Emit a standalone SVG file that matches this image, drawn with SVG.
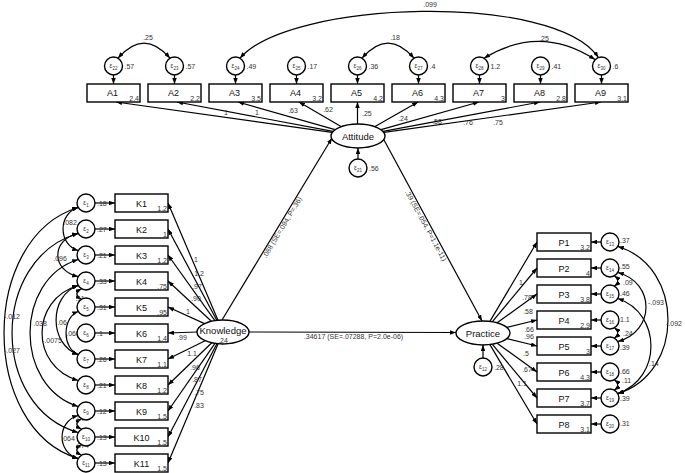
<svg xmlns="http://www.w3.org/2000/svg" width="685" height="473" viewBox="0 0 685 473">
<defs>
<marker id="ah" viewBox="0 0 8 6" refX="8" refY="3" markerWidth="6" markerHeight="4.5" orient="auto-start-reverse" markerUnits="userSpaceOnUse"><path d="M0,0 L8,3 L0,6 z" fill="#000"/></marker>
<style>
.box{fill:#fff;stroke:#000;stroke-width:1.4}
.err{fill:#fff;stroke:#000;stroke-width:1.4}
.lat{fill:#fff;stroke:#000;stroke-width:1.4}
.ln{fill:none;stroke:#000;stroke-width:1.2;marker-end:url(#ah)}
.cv{fill:none;stroke:#000;stroke-width:1.2;marker-start:url(#ah);marker-end:url(#ah)}
text{font-family:"Liberation Sans",Arial,sans-serif}
.s{font-size:7px;fill:#333}
.b{font-size:9px;fill:#111;text-anchor:middle}
.n{font-size:9.5px;fill:#111;text-anchor:middle}
.e{font-size:6.5px;fill:#333;text-anchor:middle}
.e tspan{font-size:4.5px}
.r{text-anchor:end}
.m{text-anchor:middle}
</style>
</defs>
<g opacity="0.999">
<g id="connectors">
<path class="ln" d="M332,132.4 L116,102"/>
<path class="ln" d="M333,131.4 L177,102"/>
<path class="ln" d="M335,129.6 L238,102"/>
<path class="ln" d="M341,126.6 L299,102"/>
<path class="ln" d="M357.5,124 L357.5,102"/>
<path class="ln" d="M375,126.6 L418,102"/>
<path class="ln" d="M381,129.6 L479,102"/>
<path class="ln" d="M383,131.4 L540,102"/>
<path class="ln" d="M384,132.4 L601,102"/>
<path class="ln" d="M113.5,75 L113.5,84"/>
<path class="ln" d="M174.5,75 L174.5,84"/>
<path class="ln" d="M235.5,75 L235.5,84"/>
<path class="ln" d="M296.5,75 L296.5,84"/>
<path class="ln" d="M357.5,75 L357.5,84"/>
<path class="ln" d="M418.5,75 L418.5,84"/>
<path class="ln" d="M479.5,75 L479.5,84"/>
<path class="ln" d="M540.5,75 L540.5,84"/>
<path class="ln" d="M601.5,75 L601.5,84"/>
<path class="cv" d="M118,58.2 Q144,28 170,58.2"/>
<path class="cv" d="M362,58.2 Q388,28 414,58.2"/>
<path class="cv" d="M595,59.6 Q540,24 484,58.2"/>
<path class="cv" d="M240,58.2 C290,0 555,-8 598.4,57.5"/>
<path class="ln" d="M358,159 L358,148"/>
<path class="ln" d="M218,320.2 L168,203"/>
<path class="ln" d="M216.8,320.3 L168,229"/>
<path class="ln" d="M214.9,320.6 L168,255"/>
<path class="ln" d="M211.4,321.3 L168,281"/>
<path class="ln" d="M204.5,323.6 L168,307"/>
<path class="ln" d="M197,332 L168,333"/>
<path class="ln" d="M205.2,340.7 L168,359"/>
<path class="ln" d="M211.8,342.8 L168,385"/>
<path class="ln" d="M215,343.4 L168,411"/>
<path class="ln" d="M216.9,343.7 L168,437"/>
<path class="ln" d="M218.1,343.8 L168,463"/>
<path class="ln" d="M95,203 L115,203"/>
<path class="ln" d="M95,229 L115,229"/>
<path class="ln" d="M95,255 L115,255"/>
<path class="ln" d="M95,281 L115,281"/>
<path class="ln" d="M95,307 L115,307"/>
<path class="ln" d="M95,333 L115,333"/>
<path class="ln" d="M95,359 L115,359"/>
<path class="ln" d="M95,385 L115,385"/>
<path class="ln" d="M95,411 L115,411"/>
<path class="ln" d="M95,437 L115,437"/>
<path class="ln" d="M95,463 L115,463"/>
<path class="cv" d="M78.2,207.5 C58,213.5 58,244.5 78.2,250.5"/>
<path class="cv" d="M78.2,233.5 C51,239.5 51,270.5 78.2,276.5"/>
<path class="cv" d="M81.5,288.8 Q72,294 81.5,299.2"/>
<path class="cv" d="M78.2,285.5 C48.7,295.5 48.7,344.5 78.2,354.5"/>
<path class="cv" d="M78.2,311.5 C62,317.5 62,348.5 78.2,354.5"/>
<path class="cv" d="M78.2,259.5 C14,279.5 14,386.5 78.2,406.5"/>
<path class="cv" d="M78.2,285.5 C30,299.5 30,366.5 78.2,380.5"/>
<path class="cv" d="M78.2,207.5 C-20.7,237.5 -20.7,428.5 78.2,458.5"/>
<path class="cv" d="M78.2,233.5 C-10,258.5 -10,407.5 78.2,432.5"/>
<path class="cv" d="M81.5,418.8 Q72,424 81.5,429.2"/>
<path class="cv" d="M81.5,444.8 Q72,450 81.5,455.2"/>
<path class="cv" d="M78.2,415.5 C56.7,421.5 56.7,452.5 78.2,458.5"/>
<path class="ln" d="M222,320 L332,138"/>
<path class="ln" d="M384,140 L482,321"/>
<path class="ln" d="M249,332 L456,332.5"/>
<path class="ln" d="M489.9,321.4 L537,242"/>
<path class="ln" d="M492.4,321.7 L537,268"/>
<path class="ln" d="M497.1,322.8 L537,294"/>
<path class="ln" d="M506.8,327.3 L537,320"/>
<path class="ln" d="M506.8,338.7 L537,346"/>
<path class="ln" d="M497.1,343.2 L537,372"/>
<path class="ln" d="M492.4,344.3 L537,398"/>
<path class="ln" d="M489.9,344.6 L537,424"/>
<path class="ln" d="M483,358 L483,345"/>
<path class="ln" d="M601,242 L591,242"/>
<path class="ln" d="M601,268 L591,268"/>
<path class="ln" d="M601,294 L591,294"/>
<path class="ln" d="M601,320 L591,320"/>
<path class="ln" d="M601,346 L591,346"/>
<path class="ln" d="M601,372 L591,372"/>
<path class="ln" d="M601,398 L591,398"/>
<path class="ln" d="M601,424 L591,424"/>
<path class="cv" d="M614.5,275.8 Q621,281 614.5,286.2"/>
<path class="cv" d="M614.5,327.8 Q621,333 614.5,338.2"/>
<path class="cv" d="M614.5,379.8 Q621,385 614.5,390.2"/>
<path class="cv" d="M617.8,272.5 C655.4,282.5 655.4,331.5 617.8,341.5"/>
<path class="cv" d="M617.8,298.5 C662,313.5 662,378.5 617.8,393.5"/>
<path class="cv" d="M617.8,246.5 C684.7,266.5 684.7,373.5 617.8,393.5"/>
</g>

<g id="connector-labels">
<text class="s m" x="226" y="114.5">1</text>
<text class="s m" x="257" y="114.5">1</text>
<text class="s m" x="293" y="112.5">.63</text>
<text class="s m" x="328" y="111.5">.62</text>
<text class="s" x="362" y="115.5">.25</text>
<text class="s m" x="403" y="120.5">.24</text>
<text class="s m" x="437" y="123.5">.58</text>
<text class="s m" x="468" y="124.5">.76</text>
<text class="s m" x="498" y="124.5">.75</text>
<text class="s m" x="148" y="39.5">.25</text>
<text class="s m" x="395" y="39.5">.18</text>
<text class="s m" x="544" y="40.5">.25</text>
<text class="s m" x="430" y="7">.099</text>
<text class="s m" x="196" y="261.5">1</text>
<text class="s m" x="199" y="275.5">1.2</text>
<text class="s m" x="197" y="288.5">.97</text>
<text class="s m" x="196" y="300.5">.90</text>
<text class="s m" x="188" y="313.5">1</text>
<text class="s m" x="182" y="339.5">.99</text>
<text class="s m" x="192" y="355.5">1.1</text>
<text class="s m" x="195" y="369.5">.96</text>
<text class="s m" x="197" y="381.5">.87</text>
<text class="s m" x="199" y="394.5">.75</text>
<text class="s m" x="199" y="407.5">.83</text>
<text class="s m" x="70" y="224.5">.082</text>
<text class="s m" x="60" y="260.5">.096</text>
<text class="s m" x="80" y="300.5">.11</text>
<text class="s m" x="62" y="324.5">.06</text>
<text class="s m" x="73" y="335.5">.068</text>
<text class="s m" x="40" y="325.5">.038</text>
<text class="s m" x="52" y="342.5">-.0075</text>
<text class="s m" x="12" y="318.5">-.012</text>
<text class="s m" x="12" y="352.5">-.027</text>
<text class="s m" x="82" y="420.5">.074</text>
<text class="s m" x="82" y="447.5">.074</text>
<text class="s m" x="68" y="440.5">.064</text>
<text class="s m" x="353.5" y="339">.34617 (SE=.07288, P=2.0e-06)</text>
<text class="s m" transform="rotate(-58.9 284.2 228.6)" x="284.2" y="228.6">.088 (SE=.094, P=.36)</text>
<text class="s m" transform="rotate(61.6 423.7 226.9)" x="423.7" y="226.9">.39 (SE=.054, P=1.1e-11)</text>
<text class="s m" x="521" y="284.5">1</text>
<text class="s m" x="527" y="299.5">.78</text>
<text class="s m" x="528" y="313.5">.58</text>
<text class="s m" x="529" y="331.5">.66</text>
<text class="s m" x="529" y="338.5">.96</text>
<text class="s m" x="526" y="355.5">.5</text>
<text class="s m" x="527" y="371.5">.67</text>
<text class="s m" x="522" y="385.5">1.1</text>
<text class="s" x="623" y="285">.09</text>
<text class="s" x="623" y="336">.24</text>
<text class="s" x="622" y="383">.11</text>
<text class="s" x="648" y="304.5">-.093</text>
<text class="s" x="649" y="365.5">.14</text>
<text class="s" x="666" y="325.5">-.092</text>
</g>

<g id="A1"><rect class="box" x="87" y="84" width="53" height="18"/><text class="b" x="112.5" y="96">A1</text><text class="s r" x="139" y="100.5">2.4</text><circle class="err" cx="113.5" cy="66" r="9"/><text class="e" x="113.5" y="68">ε<tspan dy="1.5">22</tspan></text><text class="s" x="124.5" y="68.5">.57</text></g>
<g id="A2"><rect class="box" x="148" y="84" width="53" height="18"/><text class="b" x="173.5" y="96">A2</text><text class="s r" x="200" y="100.5">2.2</text><circle class="err" cx="174.5" cy="66" r="9"/><text class="e" x="174.5" y="68">ε<tspan dy="1.5">23</tspan></text><text class="s" x="185.5" y="68.5">.57</text></g>
<g id="A3"><rect class="box" x="209" y="84" width="53" height="18"/><text class="b" x="234.5" y="96">A3</text><text class="s r" x="261" y="100.5">3.5</text><circle class="err" cx="235.5" cy="66" r="9"/><text class="e" x="235.5" y="68">ε<tspan dy="1.5">24</tspan></text><text class="s" x="246.5" y="68.5">.49</text></g>
<g id="A4"><rect class="box" x="270" y="84" width="53" height="18"/><text class="b" x="295.5" y="96">A4</text><text class="s r" x="322" y="100.5">3.2</text><circle class="err" cx="296.5" cy="66" r="9"/><text class="e" x="296.5" y="68">ε<tspan dy="1.5">25</tspan></text><text class="s" x="307.5" y="68.5">.17</text></g>
<g id="A5"><rect class="box" x="331" y="84" width="53" height="18"/><text class="b" x="356.5" y="96">A5</text><text class="s r" x="383" y="100.5">4.2</text><circle class="err" cx="357.5" cy="66" r="9"/><text class="e" x="357.5" y="68">ε<tspan dy="1.5">26</tspan></text><text class="s" x="368.5" y="68.5">.36</text></g>
<g id="A6"><rect class="box" x="392" y="84" width="53" height="18"/><text class="b" x="417.5" y="96">A6</text><text class="s r" x="444" y="100.5">4.3</text><circle class="err" cx="418.5" cy="66" r="9"/><text class="e" x="418.5" y="68">ε<tspan dy="1.5">27</tspan></text><text class="s" x="429.5" y="68.5">.4</text></g>
<g id="A7"><rect class="box" x="453" y="84" width="53" height="18"/><text class="b" x="478.5" y="96">A7</text><text class="s r" x="505" y="100.5">3</text><circle class="err" cx="479.5" cy="66" r="9"/><text class="e" x="479.5" y="68">ε<tspan dy="1.5">28</tspan></text><text class="s" x="490.5" y="68.5">1.2</text></g>
<g id="A8"><rect class="box" x="514" y="84" width="53" height="18"/><text class="b" x="539.5" y="96">A8</text><text class="s r" x="566" y="100.5">2.8</text><circle class="err" cx="540.5" cy="66" r="9"/><text class="e" x="540.5" y="68">ε<tspan dy="1.5">29</tspan></text><text class="s" x="551.5" y="68.5">.41</text></g>
<g id="A9"><rect class="box" x="575" y="84" width="53" height="18"/><text class="b" x="600.5" y="96">A9</text><text class="s r" x="627" y="100.5">3.1</text><circle class="err" cx="601.5" cy="66" r="9"/><text class="e" x="601.5" y="68">ε<tspan dy="1.5">30</tspan></text><text class="s" x="612.5" y="68.5">.6</text></g>

<g id="Attitude"><ellipse class="lat" cx="358" cy="136" rx="27" ry="12"/><text class="n" x="358" y="139.5">Attitude</text><circle class="err" cx="358" cy="168" r="9"/><text class="e" x="358" y="170">ε<tspan dy="1.5">21</tspan></text><text class="s" x="369" y="171">.56</text></g>

<g id="Knowledge"><ellipse class="lat" cx="223" cy="332" rx="26" ry="12"/><text class="n" x="223" y="333.5">Knowledge</text><text class="s m" x="223" y="342.5">.24</text></g>

<g id="Practice"><ellipse class="lat" cx="483" cy="333" rx="27" ry="12"/><text class="n" x="483" y="336.5">Practice</text><circle class="err" cx="483" cy="367" r="9"/><text class="e" x="483" y="369">ε<tspan dy="1.5">12</tspan></text><text class="s" x="494" y="369.5">.28</text></g>

<g id="K1"><rect class="box" x="115" y="194" width="53" height="18"/><text class="b" x="141.5" y="206.5">K1</text><text class="s r" x="167" y="211">1.2</text><circle class="err" cx="86" cy="203" r="9"/><text class="e" x="86" y="205">ε<tspan dy="1.5">1</tspan></text><text class="s" x="97" y="205.5">.18</text></g>
<g id="K2"><rect class="box" x="115" y="220" width="53" height="18"/><text class="b" x="141.5" y="232.5">K2</text><text class="s r" x="167" y="237">1</text><circle class="err" cx="86" cy="229" r="9"/><text class="e" x="86" y="231">ε<tspan dy="1.5">2</tspan></text><text class="s" x="97" y="231.5">.27</text></g>
<g id="K3"><rect class="box" x="115" y="246" width="53" height="18"/><text class="b" x="141.5" y="258.5">K3</text><text class="s r" x="167" y="263">1.2</text><circle class="err" cx="86" cy="255" r="9"/><text class="e" x="86" y="257">ε<tspan dy="1.5">3</tspan></text><text class="s" x="97" y="257.5">.21</text></g>
<g id="K4"><rect class="box" x="115" y="272" width="53" height="18"/><text class="b" x="141.5" y="284.5">K4</text><text class="s r" x="167" y="289">.75</text><circle class="err" cx="86" cy="281" r="9"/><text class="e" x="86" y="283">ε<tspan dy="1.5">4</tspan></text><text class="s" x="97" y="283.5">.33</text></g>
<g id="K5"><rect class="box" x="115" y="298" width="53" height="18"/><text class="b" x="141.5" y="310.5">K5</text><text class="s r" x="167" y="315">.95</text><circle class="err" cx="86" cy="307" r="9"/><text class="e" x="86" y="309">ε<tspan dy="1.5">5</tspan></text><text class="s" x="97" y="309.5">.31</text></g>
<g id="K6"><rect class="box" x="115" y="324" width="53" height="18"/><text class="b" x="141.5" y="336.5">K6</text><text class="s r" x="167" y="341">1.4</text><circle class="err" cx="86" cy="333" r="9"/><text class="e" x="86" y="335">ε<tspan dy="1.5">6</tspan></text><text class="s" x="97" y="335.5">.1</text></g>
<g id="K7"><rect class="box" x="115" y="350" width="53" height="18"/><text class="b" x="141.5" y="362.5">K7</text><text class="s r" x="167" y="367">1.1</text><circle class="err" cx="86" cy="359" r="9"/><text class="e" x="86" y="361">ε<tspan dy="1.5">7</tspan></text><text class="s" x="97" y="361.5">.26</text></g>
<g id="K8"><rect class="box" x="115" y="376" width="53" height="18"/><text class="b" x="141.5" y="388.5">K8</text><text class="s r" x="167" y="393">1.2</text><circle class="err" cx="86" cy="385" r="9"/><text class="e" x="86" y="387">ε<tspan dy="1.5">8</tspan></text><text class="s" x="97" y="387.5">.21</text></g>
<g id="K9"><rect class="box" x="115" y="402" width="53" height="18"/><text class="b" x="141.5" y="414.5">K9</text><text class="s r" x="167" y="419">1.5</text><circle class="err" cx="86" cy="411" r="9"/><text class="e" x="86" y="413">ε<tspan dy="1.5">9</tspan></text><text class="s" x="97" y="413.5">.12</text></g>
<g id="K10"><rect class="box" x="115" y="428" width="53" height="18"/><text class="b" x="141.5" y="440.5">K10</text><text class="s r" x="167" y="445">1.5</text><circle class="err" cx="86" cy="437" r="9"/><text class="e" x="86" y="439">ε<tspan dy="1.5">10</tspan></text><text class="s" x="97" y="439.5">.13</text></g>
<g id="K11"><rect class="box" x="115" y="454" width="53" height="18"/><text class="b" x="141.5" y="466.5">K11</text><text class="s r" x="167" y="471">1.5</text><circle class="err" cx="86" cy="463" r="9"/><text class="e" x="86" y="465">ε<tspan dy="1.5">11</tspan></text><text class="s" x="97" y="465.5">.13</text></g>

<g id="P1"><rect class="box" x="537" y="233" width="54" height="18"/><text class="b" x="564" y="245.5">P1</text><text class="s r" x="590" y="250">3.2</text><circle class="err" cx="610" cy="242" r="9"/><text class="e" x="610" y="244">ε<tspan dy="1.5">13</tspan></text><text class="s" x="620" y="243">.37</text></g>
<g id="P2"><rect class="box" x="537" y="259" width="54" height="18"/><text class="b" x="564" y="271.5">P2</text><text class="s r" x="590" y="276">4</text><circle class="err" cx="610" cy="268" r="9"/><text class="e" x="610" y="270">ε<tspan dy="1.5">14</tspan></text><text class="s" x="620" y="269">.55</text></g>
<g id="P3"><rect class="box" x="537" y="285" width="54" height="18"/><text class="b" x="564" y="297.5">P3</text><text class="s r" x="590" y="302">3.8</text><circle class="err" cx="610" cy="294" r="9"/><text class="e" x="610" y="296">ε<tspan dy="1.5">15</tspan></text><text class="s" x="620" y="296">.46</text></g>
<g id="P4"><rect class="box" x="537" y="311" width="54" height="18"/><text class="b" x="564" y="323.5">P4</text><text class="s r" x="590" y="328">2.9</text><circle class="err" cx="610" cy="320" r="9"/><text class="e" x="610" y="322">ε<tspan dy="1.5">16</tspan></text><text class="s" x="620" y="322">1.1</text></g>
<g id="P5"><rect class="box" x="537" y="337" width="54" height="18"/><text class="b" x="564" y="349.5">P5</text><text class="s r" x="590" y="354">3</text><circle class="err" cx="610" cy="346" r="9"/><text class="e" x="610" y="348">ε<tspan dy="1.5">17</tspan></text><text class="s" x="620" y="350">.39</text></g>
<g id="P6"><rect class="box" x="537" y="363" width="54" height="18"/><text class="b" x="564" y="375.5">P6</text><text class="s r" x="590" y="380">4.3</text><circle class="err" cx="610" cy="372" r="9"/><text class="e" x="610" y="374">ε<tspan dy="1.5">18</tspan></text><text class="s" x="620" y="374">.66</text></g>
<g id="P7"><rect class="box" x="537" y="389" width="54" height="18"/><text class="b" x="564" y="401.5">P7</text><text class="s r" x="590" y="406">3.7</text><circle class="err" cx="610" cy="398" r="9"/><text class="e" x="610" y="400">ε<tspan dy="1.5">19</tspan></text><text class="s" x="620" y="401">.39</text></g>
<g id="P8"><rect class="box" x="537" y="415" width="54" height="18"/><text class="b" x="564" y="427.5">P8</text><text class="s r" x="590" y="432">3.1</text><circle class="err" cx="610" cy="424" r="9"/><text class="e" x="610" y="426">ε<tspan dy="1.5">20</tspan></text><text class="s" x="620" y="426">.31</text></g>
</g>
</svg>
